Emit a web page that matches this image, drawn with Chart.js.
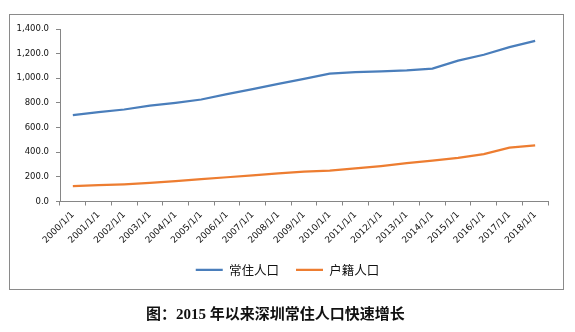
<!DOCTYPE html>
<html>
<head>
<meta charset="utf-8">
<script src="https://cdn.jsdelivr.net/npm/chart.js@4/dist/chart.umd.min.js"></script>
<style>
  html, body { margin: 0; padding: 0; background: #ffffff; }
  #wrap { position: relative; width: 575px; height: 332px; overflow: hidden; }
  #frame { position: absolute; left: 9px; top: 14px; width: 553px; height: 274px; border: 1px solid #8a8a8a; box-sizing: content-box; }
  #c { position: absolute; left: 0; top: 0; }
  #caption { position: absolute; left: 146px; top: 304px; font-family: "Liberation Serif", "Noto Sans CJK SC", serif; font-weight: bold; font-size: 15px; color: #111; white-space: nowrap; line-height: 20px; }
</style>
</head>
<body>
<div id="wrap">
  <div id="frame"></div>
  <canvas id="c" width="575" height="332"></canvas>
  <div id="caption">图：2015 年以来深圳常住人口快速增长</div>
</div>
<script>
const categories = ["2000/1/1","2001/1/1","2002/1/1","2003/1/1","2004/1/1","2005/1/1","2006/1/1","2007/1/1","2008/1/1","2009/1/1","2010/1/1","2011/1/1","2012/1/1","2013/1/1","2014/1/1","2015/1/1","2016/1/1","2017/1/1","2018/1/1"];
const residentPop = [701.2, 724.6, 746.6, 778.3, 800.8, 827.8, 871.1, 912.4, 954.3, 995.0, 1037.2, 1050.0, 1057.0, 1064.0, 1077.9, 1143.0, 1191.0, 1253.0, 1303.0];
const registeredPop = [124.9, 132.0, 139.5, 150.9, 165.1, 181.9, 196.8, 212.4, 228.1, 241.5, 251.0, 267.9, 287.6, 310.5, 332.2, 355.0, 384.5, 437.0, 454.7];
const seriesNames = ["常住人口", "户籍人口"];
const yTicks = { min: 0, max: 1400, step: 200 };

const axisColor = "#868686";
const yFont = { family: "DejaVu Sans", size: 8.5 };
const xFont = { family: "DejaVu Sans", size: 9 };

new Chart(document.getElementById("c"), {
  type: "line",
  data: {
    labels: categories,
    datasets: [
      { label: seriesNames[0], data: residentPop, borderColor: "#4A7EBB", backgroundColor: "#4A7EBB", borderWidth: 2.25, pointRadius: 0, tension: 0 },
      { label: seriesNames[1], data: registeredPop, borderColor: "#ED7D31", backgroundColor: "#ED7D31", borderWidth: 2.25, pointRadius: 0, tension: 0 }
    ]
  },
  options: {
    responsive: false,
    animation: false,
    devicePixelRatio: 1,
    layout: { padding: { left: 0, right: 0, top: 29, bottom: 46 } },
    plugins: {
      tooltip: { enabled: false },
      title: { display: false },
      legend: {
        display: true,
        position: "bottom",
        labels: {
          usePointStyle: true,
          pointStyle: "line",
          pointStyleWidth: 27,
          padding: 17,
          color: "#111",
          font: { family: "Noto Sans CJK SC", size: 12.5 }
        }
      }
    },
    scales: {
      x: {
        type: "category",
        offset: true,
        afterFit: (s) => { s.height = 45; },
        grid: { display: true, offset: true, drawOnChartArea: false, drawTicks: true, tickLength: 4, color: axisColor },
        border: { display: true, color: axisColor, width: 1 },
        ticks: { minRotation: 45, maxRotation: 45, autoSkip: false, padding: 4, color: "#111", font: xFont }
      },
      y: {
        min: yTicks.min,
        max: yTicks.max,
        position: "left",
        afterFit: (s) => { s.width = 60; },
        grid: { display: true, drawOnChartArea: false, drawTicks: true, tickLength: 4, color: axisColor },
        border: { display: true, color: axisColor, width: 1 },
        ticks: {
          stepSize: yTicks.step,
          padding: 7,
          color: "#111",
          font: yFont,
          callback: (v) => Number(v).toLocaleString("en-US", { minimumFractionDigits: 1, maximumFractionDigits: 1 })
        }
      },
      yRight: {
        position: "right",
        min: yTicks.min,
        max: yTicks.max,
        afterFit: (s) => { s.width = 27; },
        grid: { display: false, drawTicks: false },
        border: { display: false },
        ticks: { display: false }
      }
    }
  }
});
</script>
</body>
</html>
